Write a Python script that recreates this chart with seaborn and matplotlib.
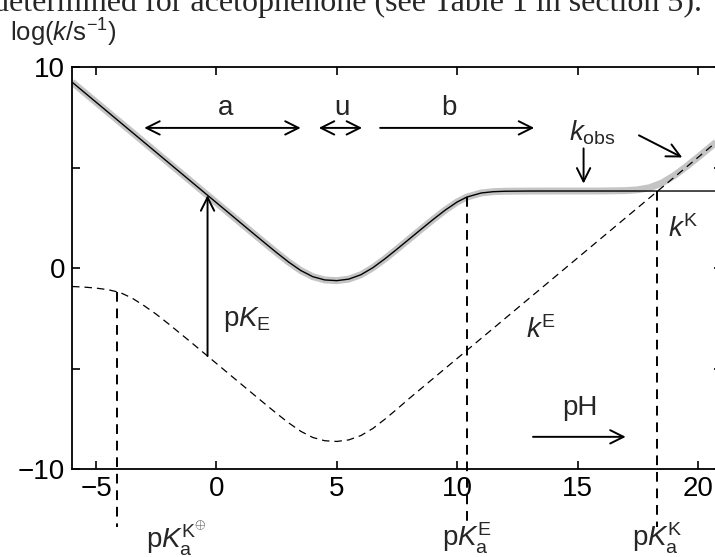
import matplotlib
matplotlib.use("Agg")
import matplotlib.pyplot as plt
import seaborn as sns

# pH grid shared by the ketonisation curve and the observed rate
ph = [-6, -5, -4, -3, -2, -1, 0, 1, 1.5, 2, 2.5, 3, 3.5, 4, 4.5, 5, 5.5, 6, 6.5,
      7, 7.5, 8, 8.5, 9, 9.5, 10, 10.4, 11, 11.5, 12, 13, 14, 15, 16, 17, 17.5,
      18, 18.5, 19, 19.5, 20, 20.5, 21]
log_kK = [9.25, 8.25, 7.25, 6.25, 5.25, 4.25, 3.25, 2.25, 1.75, 1.255, 0.764,
          0.294, -0.123, -0.431, -0.594, -0.629, -0.552, -0.336, 0.017, 0.459,
          0.939, 1.431, 1.925, 2.413, 2.878, 3.285, 3.529, 3.733, 3.797, 3.819,
          3.829, 3.83, 3.83, 3.83, 3.83, 3.83, 3.83, 3.83, 3.83, 3.83, 3.83,
          3.83, 3.83]
log_kobs = [9.25, 8.25, 7.25, 6.25, 5.25, 4.25, 3.25, 2.25, 1.75, 1.255, 0.764,
            0.294, -0.123, -0.431, -0.594, -0.629, -0.552, -0.336, 0.017, 0.459,
            0.939, 1.431, 1.925, 2.413, 2.878, 3.285, 3.529, 3.733, 3.797, 3.819,
            3.829, 3.83, 3.83, 3.832, 3.850, 3.890, 3.997, 4.224, 4.584, 5.028,
            5.509, 6.003, 6.501]

# enolisation curve
ph_E = [-6, -5.5, -5, -4.5, -4, -3.5, -3, -2.5, -2, -1, 0, 1, 2, 2.5, 3, 3.5,
        4, 4.5, 5, 5.5, 6, 6.5, 7, 7.5, 8, 21]
log_kE = [-0.92, -0.95, -1.0, -1.08, -1.22, -1.5, -1.88, -2.3, -2.77, -3.75,
          -4.75, -5.75, -6.745, -7.236, -7.706, -8.123, -8.431, -8.594, -8.629,
          -8.552, -8.336, -7.983, -7.52, -7.02, -6.5, 6.5]

# acidity constants marked on the pH axis: (pKa, log k where the marker starts)
pKa_KH = (-4.15, -1.17)
pKa_E = (10.4, 3.529)
pKa_K = (18.3, 3.83)
pK_E_at = -0.37
pK_E_span = (-4.38, 3.62)

FS = 20

sns.set_theme(style="ticks")
plt.rcParams["font.family"] = ["Liberation Sans", "DejaVu Sans"]
plt.rcParams["mathtext.fontset"] = "custom"
plt.rcParams["mathtext.rm"] = "Liberation Sans"
plt.rcParams["mathtext.it"] = "Liberation Sans:italic"
plt.rcParams["mathtext.bf"] = "Liberation Sans:bold"

fig = plt.figure(figsize=(7.15, 5.57), dpi=100)
ax = fig.add_axes([72 / 715, 88 / 557, 650 / 715, 402 / 557])

sns.lineplot(x=ph, y=log_kobs, ax=ax, color="#c4c4c4", lw=5.0,
             solid_capstyle="butt", sort=False)
sns.lineplot(x=ph, y=log_kK, ax=ax, color="black", lw=1.0, sort=False)
sns.lineplot(x=ph_E, y=log_kE, ax=ax, color="black", lw=0.9,
             linestyle=(0, (6, 4)), sort=False)

ax.set_xlim(-6, 21)
ax.set_ylim(-10, 10)
ax.set_xticks([-5, 0, 5, 10, 15, 20])
ax.set_yticks([-10, -5, 0, 5, 10])
ax.set_yticklabels(["\u221210", "", "0", "", "10"])
ax.tick_params(direction="in", length=6, width=1.2, labelsize=FS,
               top=True, right=True, pad=5, colors="black")
for s in ax.spines.values():
    s.set_linewidth(1.3)
    s.set_color("black")

# vertical pKa markers running below the axis
for xv, yv in (pKa_KH, pKa_E, pKa_K):
    ax.plot([xv, xv], [yv, -12.9], color="black", lw=1.4,
            linestyle=(0, (5, 3.5)), clip_on=False)

arrow_kw = dict(lw=1.4, color="black", mutation_scale=24, shrinkA=0, shrinkB=0)

# pK_E arrow
ax.annotate("", xy=(pK_E_at, pK_E_span[1]), xytext=(pK_E_at, pK_E_span[0]),
            arrowprops=dict(arrowstyle="->", **arrow_kw))
ax.text(pK_E_at + 0.65, -2.55, r"p$\mathit{K}_{\mathrm{E}}$", fontsize=FS,
        va="center", ha="left")

# region arrows
ax.annotate("", xy=(-3.0, 6.97), xytext=(3.5, 6.97),
            arrowprops=dict(arrowstyle="<->", **arrow_kw))
ax.annotate("", xy=(4.25, 6.97), xytext=(6.05, 6.97),
            arrowprops=dict(arrowstyle="<->", **arrow_kw))
ax.annotate("", xy=(13.2, 6.97), xytext=(6.8, 6.97),
            arrowprops=dict(arrowstyle="->", **arrow_kw))
ax.text(0.37, 7.95, "a", fontsize=FS, ha="center", va="center")
ax.text(5.2, 7.95, "u", fontsize=FS, ha="center", va="center")
ax.text(9.65, 7.95, "b", fontsize=FS, ha="center", va="center")

# k_obs label with its two pointers
ax.text(15.6, 6.75, r"$\mathit{k}_{\mathrm{obs}}$", fontsize=FS,
        ha="center", va="center")
ax.annotate("", xy=(15.25, 4.2), xytext=(15.25, 5.95),
            arrowprops=dict(arrowstyle="->", **arrow_kw))
ax.annotate("", xy=(19.35, 5.5), xytext=(17.55, 6.6),
            arrowprops=dict(arrowstyle="->", **arrow_kw))

ax.text(19.4, 1.95, r"$\mathit{k}^{\mathrm{K}}$", fontsize=FS,
        ha="center", va="center")
ax.text(13.5, -3.1, r"$\mathit{k}^{\mathrm{E}}$", fontsize=FS,
        ha="center", va="center")

# pH direction
ax.text(15.1, -6.95, "pH", fontsize=FS, ha="center", va="center")
ax.annotate("", xy=(17.0, -8.4), xytext=(13.15, -8.4),
            arrowprops=dict(arrowstyle="->", **arrow_kw))

# pKa labels under the axis
ax.text(-1.65, -13.45, r"p$\mathit{K}_{\mathrm{a}}^{\mathrm{K}^{\oplus}}$",
        fontsize=FS, ha="center", va="center", clip_on=False)
ax.text(pKa_E[0], -13.45, r"p$\mathit{K}_{\mathrm{a}}^{\mathrm{E}}$",
        fontsize=FS, ha="center", va="center", clip_on=False)
ax.text(pKa_K[0], -13.45, r"p$\mathit{K}_{\mathrm{a}}^{\mathrm{K}}$",
        fontsize=FS, ha="center", va="center", clip_on=False)

# axis title
fig.text(10 / 715, 1 - 33 / 557, r"log($\mathit{k}$/s$^{-1}$)", fontsize=18.5,
         ha="left", va="center")

# running text line above the figure
fig.text(702 / 715, 1 - 11 / 557,
         "determined for acetophenone (see Table 1 in section 5).",
         fontsize=23, family=["Liberation Serif", "DejaVu Serif"],
         ha="right", va="baseline")

fig.savefig("out.png", dpi=100)
